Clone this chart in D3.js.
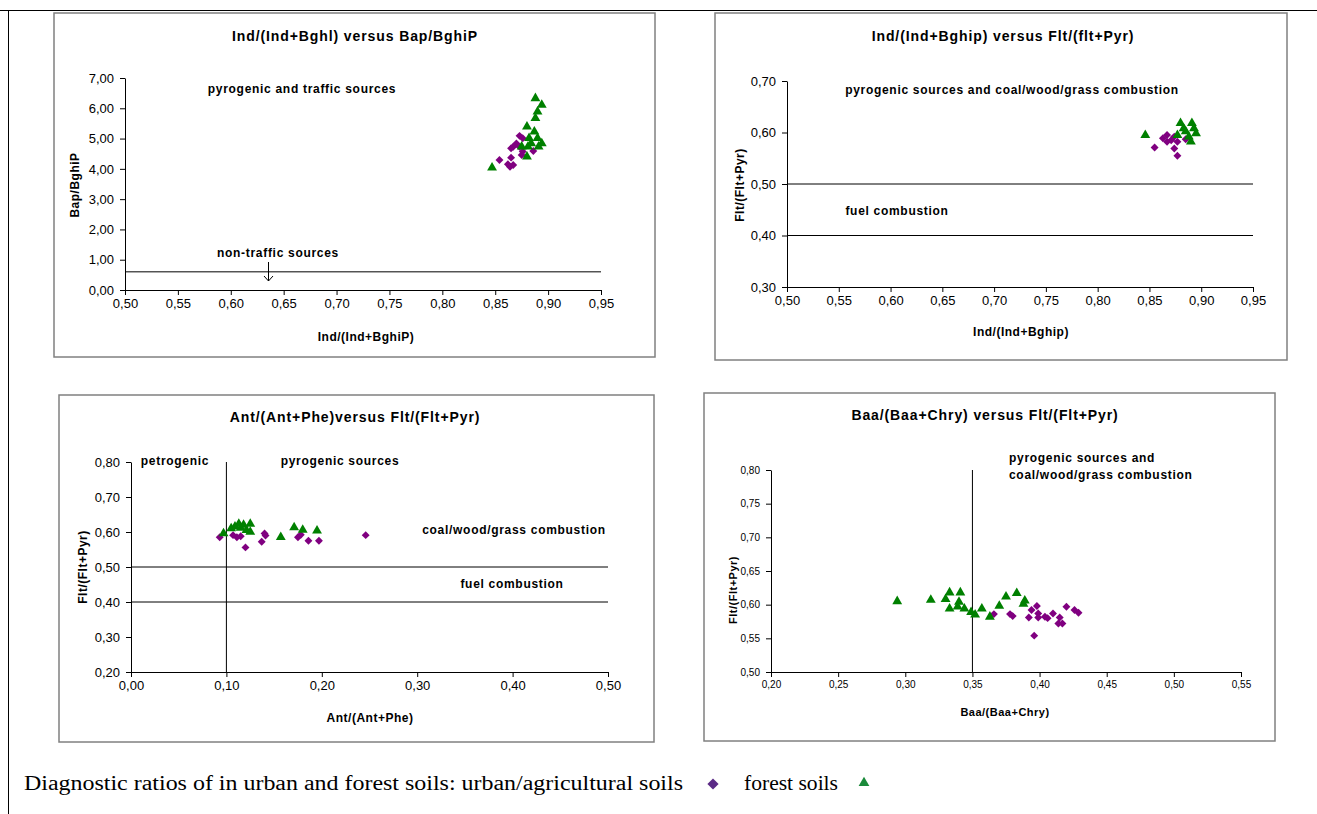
<!DOCTYPE html>
<html>
<head>
<meta charset="utf-8">
<script src="https://cdn.jsdelivr.net/npm/d3@7"></script>
<style>
  body { margin: 0; background: #fff; }
  svg { display: block; }
  .tick text { font-family: "Liberation Sans", Arial, sans-serif; fill: #000; }
  .ttl, .note, .label { font-family: "Liberation Sans", Arial, sans-serif; font-weight: bold; }
  .ttl { letter-spacing: 0.9px; }
  .note { letter-spacing: 0.7px; }
  .label { letter-spacing: 0.5px; }
</style>
</head>
<body>
<svg></svg>
<script>
'use strict';
// values, [x, y]
var p1Urban = [[0.873,5.09],[0.876,5.01],[0.870,4.84],[0.867,4.73],[0.873,4.73],[0.865,4.68],[0.876,4.57],
  [0.886,4.59],[0.875,4.46],[0.854,4.29],[0.865,4.37],[0.862,4.15],[0.867,4.13],[0.864,4.07]];
var p1Forest = [[0.888,6.33],[0.894,6.11],[0.890,5.89],[0.888,5.67],[0.880,5.39],[0.887,5.23],[0.882,5.01],
  [0.890,5.01],[0.894,4.84],[0.884,4.84],[0.875,4.73],[0.881,4.73],[0.891,4.73],[0.880,4.40],[0.847,4.04]];

var p2Urban = [[0.867,0.595],[0.863,0.589],[0.871,0.585],[0.874,0.592],[0.877,0.582],[0.855,0.571],
  [0.874,0.569],[0.877,0.555],[0.867,0.582],[0.885,0.587]];
var p2Forest = [[0.846,0.595],[0.880,0.618],[0.891,0.618],[0.883,0.608],[0.893,0.608],[0.877,0.595],
  [0.888,0.592],[0.890,0.582],[0.885,0.602],[0.895,0.598]];

var p3Urban = [[0.093,0.585],[0.107,0.591],[0.111,0.585],[0.115,0.588],[0.120,0.556],[0.140,0.596],
  [0.141,0.590],[0.137,0.572],[0.175,0.585],[0.178,0.592],[0.186,0.575],[0.197,0.575],[0.246,0.591]];
var p3Forest = [[0.097,0.596],[0.105,0.610],[0.109,0.615],[0.113,0.623],[0.118,0.620],[0.125,0.623],
  [0.125,0.600],[0.121,0.605],[0.115,0.612],[0.157,0.585],[0.171,0.613],[0.180,0.606],[0.195,0.604]];

var p4Urban = [[0.366,0.586],[0.378,0.586],[0.380,0.583],[0.394,0.592],[0.398,0.598],[0.399,0.587],
  [0.399,0.581],[0.392,0.581],[0.404,0.582],[0.406,0.580],[0.410,0.587],[0.415,0.581],[0.414,0.572],
  [0.417,0.572],[0.420,0.597],[0.426,0.592],[0.429,0.588],[0.396,0.554]];
var p4Forest = [[0.294,0.605],[0.319,0.607],[0.330,0.608],[0.333,0.618],[0.341,0.618],[0.340,0.604],
  [0.333,0.594],[0.339,0.597],[0.344,0.594],[0.349,0.589],[0.352,0.585],[0.357,0.594],[0.363,0.582],
  [0.370,0.598],[0.375,0.612],[0.383,0.617],[0.389,0.606],[0.388,0.601]];

var p1XTicks = [0.50,0.55,0.60,0.65,0.70,0.75,0.80,0.85,0.90,0.95];
var p1YTicks = [0,1,2,3,4,5,6,7];
var p2XTicks = [0.50,0.55,0.60,0.65,0.70,0.75,0.80,0.85,0.90,0.95];
var p2YTicks = [0.30,0.40,0.50,0.60,0.70];
var p3XTicks = [0,0.10,0.20,0.30,0.40,0.50];
var p3YTicks = [0.20,0.30,0.40,0.50,0.60,0.70,0.80];
var p4XTicks = [0.20,0.25,0.30,0.35,0.40,0.45,0.50,0.55];
var p4YTicks = [0.50,0.55,0.60,0.65,0.70,0.75,0.80];

var caption = 'Diagnostic ratios of in urban and forest soils: urban/agricultural soils';

var urbanColor = '#800080';
var forestColor = '#008000';

var svg = d3.select('svg').attr('width', 1317).attr('height', 814);

// page frame lines
svg.append('line').attr('x1', 0).attr('x2', 1317).attr('y1', 10.5).attr('y2', 10.5)
  .attr('stroke', '#000').attr('stroke-width', 1);
svg.append('line').attr('x1', 8.5).attr('x2', 8.5).attr('y1', 10).attr('y2', 814)
  .attr('stroke', '#000').attr('stroke-width', 1);

var fmt = function(d) { return d3.format('.2f')(d).replace('.', ','); };

function drawPanel(cfg) {
  var g = svg.append('g');
  g.append('rect')
    .attr('x', cfg.box[0]).attr('y', cfg.box[1])
    .attr('width', cfg.box[2] - cfg.box[0]).attr('height', cfg.box[3] - cfg.box[1])
    .attr('fill', '#fff').attr('stroke', '#808080').attr('stroke-width', 1.5);

  var x = d3.scaleLinear().domain(cfg.xDomain).range(cfg.xRange);
  var y = d3.scaleLinear().domain(cfg.yDomain).range(cfg.yRange);

  g.append('g')
    .attr('transform', 'translate(0,' + cfg.yRange[0] + ')')
    .call(d3.axisBottom(x).tickValues(cfg.xTicks).tickFormat(fmt).tickSize(5).tickPadding(4).tickSizeOuter(0))
    .call(function(a) {
      a.selectAll('text').attr('font-size', cfg.tickFont);
      a.selectAll('path,line').attr('stroke', '#000');
    });
  g.append('g')
    .attr('transform', 'translate(' + cfg.xRange[0] + ',0)')
    .call(d3.axisLeft(y).tickValues(cfg.yTicks).tickFormat(fmt).tickSize(5).tickPadding(6).tickSizeOuter(0))
    .call(function(a) {
      a.selectAll('text').attr('font-size', cfg.tickFont);
      a.selectAll('path,line').attr('stroke', '#000');
    });

  // reference lines
  (cfg.hLines || []).forEach(function(v) {
    g.append('line')
      .attr('x1', x(cfg.xDomain[0])).attr('x2', x(cfg.xDomain[1]))
      .attr('y1', y(v)).attr('y2', y(v))
      .attr('stroke', '#000').attr('stroke-width', 1);
  });
  (cfg.vLines || []).forEach(function(v) {
    g.append('line')
      .attr('x1', x(v)).attr('x2', x(v))
      .attr('y1', y(cfg.yDomain[0])).attr('y2', y(cfg.yDomain[1]))
      .attr('stroke', '#000').attr('stroke-width', 1);
  });

  g.append('text').attr('class', 'ttl')
    .attr('x', cfg.title[1]).attr('y', cfg.title[2])
    .attr('text-anchor', 'middle').attr('font-size', 14)
    .text(cfg.title[0]);

  g.append('text').attr('class', 'label')
    .attr('x', cfg.xLabel[1]).attr('y', cfg.xLabel[2])
    .attr('text-anchor', 'middle').attr('font-size', cfg.labelFont)
    .text(cfg.xLabel[0]);
  g.append('text').attr('class', 'label')
    .attr('transform', 'translate(' + cfg.yLabel[1] + ',' + cfg.yLabel[2] + ') rotate(-90)')
    .attr('text-anchor', 'middle').attr('font-size', cfg.labelFont)
    .text(cfg.yLabel[0]);

  cfg.notes.forEach(function(n) {
    g.append('text').attr('class', 'note')
      .attr('x', n[1]).attr('y', n[2])
      .attr('text-anchor', n[3] || 'middle').attr('font-size', 12)
      .text(n[0]);
  });

  g.selectAll('.urban')
    .data(cfg.urban)
    .enter().append('path')
    .attr('class', 'urban')
    .attr('d', d3.symbol().type(d3.symbolDiamond2).size(40))
    .attr('transform', function(d) { return 'translate(' + x(d[0]) + ',' + y(d[1]) + ')'; })
    .attr('fill', urbanColor);
  g.selectAll('.forest')
    .data(cfg.forest)
    .enter().append('path')
    .attr('class', 'forest')
    .attr('d', d3.symbol().type(d3.symbolTriangle).size(42))
    .attr('transform', function(d) { return 'translate(' + x(d[0]) + ',' + y(d[1]) + ')'; })
    .attr('fill', forestColor);
}

drawPanel({
  box: [54, 13, 655, 357],
  xDomain: [0.5, 0.95], xRange: [125, 601],
  yDomain: [0, 7], yRange: [290, 78],
  xTicks: p1XTicks, yTicks: p1YTicks, tickFont: 13, labelFont: 12,
  hLines: [0.6],
  title: ['Ind/(Ind+Bghl) versus Bap/BghiP', 355, 41],
  xLabel: ['Ind/(Ind+BghiP)', 366, 341],
  yLabel: ['Bap/BghiP', 79, 185],
  notes: [['pyrogenic and traffic sources', 302, 93], ['non-traffic sources', 278, 257]],
  urban: p1Urban, forest: p1Forest
});
// small arrow below "non-traffic sources"
svg.append('line').attr('x1', 268.5).attr('x2', 268.5).attr('y1', 262).attr('y2', 281)
  .attr('stroke', '#000').attr('stroke-width', 1);
svg.append('path').attr('d', 'M264,276 L268.5,281 L273,276').attr('fill', 'none')
  .attr('stroke', '#000').attr('stroke-width', 1);

drawPanel({
  box: [715, 13, 1287, 360],
  xDomain: [0.5, 0.95], xRange: [787, 1253],
  yDomain: [0.3, 0.7], yRange: [287, 81],
  xTicks: p2XTicks, yTicks: p2YTicks, tickFont: 13, labelFont: 12,
  hLines: [0.5, 0.4],
  title: ['Ind/(Ind+Bghip) versus Flt/(flt+Pyr)', 1003, 41],
  xLabel: ['Ind/(Ind+Bghip)', 1021, 336],
  yLabel: ['Flt/(Flt+Pyr)', 744, 185],
  notes: [['pyrogenic sources and coal/wood/grass combustion', 1012, 94], ['fuel combustion', 897, 215]],
  urban: p2Urban, forest: p2Forest
});

drawPanel({
  box: [59, 395, 654, 742],
  xDomain: [0, 0.5], xRange: [131, 608],
  yDomain: [0.2, 0.8], yRange: [672, 462],
  xTicks: p3XTicks, yTicks: p3YTicks, tickFont: 13, labelFont: 12,
  hLines: [0.5, 0.4], vLines: [0.1],
  title: ['Ant/(Ant+Phe)versus Flt/(Flt+Pyr)', 355, 422],
  xLabel: ['Ant/(Ant+Phe)', 370, 722],
  yLabel: ['Flt/(Flt+Pyr)', 87, 567],
  notes: [['petrogenic', 175, 465], ['pyrogenic sources', 340, 465],
    ['coal/wood/grass combustion', 514, 534], ['fuel combustion', 512, 588]],
  urban: p3Urban, forest: p3Forest
});

drawPanel({
  box: [704, 393, 1275, 741],
  xDomain: [0.2, 0.55], xRange: [771, 1241],
  yDomain: [0.5, 0.8], yRange: [672, 470],
  xTicks: p4XTicks, yTicks: p4YTicks, tickFont: 10, labelFont: 11,
  vLines: [0.35],
  title: ['Baa/(Baa+Chry) versus Flt/(Flt+Pyr)', 985, 420],
  xLabel: ['Baa/(Baa+Chry)', 1005, 716],
  yLabel: ['Flt/(Flt+Pyr)', 737, 590],
  notes: [['pyrogenic sources and', 1009, 462, 'start'], ['coal/wood/grass combustion', 1009, 479, 'start']],
  urban: p4Urban, forest: p4Forest
});

// caption with legend symbols
svg.append('text')
  .attr('x', 24).attr('y', 790)
  .attr('font-family', '"Liberation Serif", "Times New Roman", serif')
  .attr('font-size', 20)
  .attr('textLength', 659).attr('lengthAdjust', 'spacingAndGlyphs')
  .text(caption);
svg.append('path')
  .attr('d', d3.symbol().type(d3.symbolDiamond2).size(80))
  .attr('transform', 'translate(713,784)')
  .attr('fill', '#5b2a86');
svg.append('text')
  .attr('x', 744).attr('y', 790)
  .attr('font-family', '"Liberation Serif", "Times New Roman", serif')
  .attr('font-size', 20)
  .attr('textLength', 94).attr('lengthAdjust', 'spacingAndGlyphs')
  .text('forest soils');
svg.append('path')
  .attr('d', d3.symbol().type(d3.symbolTriangle).size(50))
  .attr('transform', 'translate(864,783)')
  .attr('fill', '#1a8a3a');
</script>
</body>
</html>
